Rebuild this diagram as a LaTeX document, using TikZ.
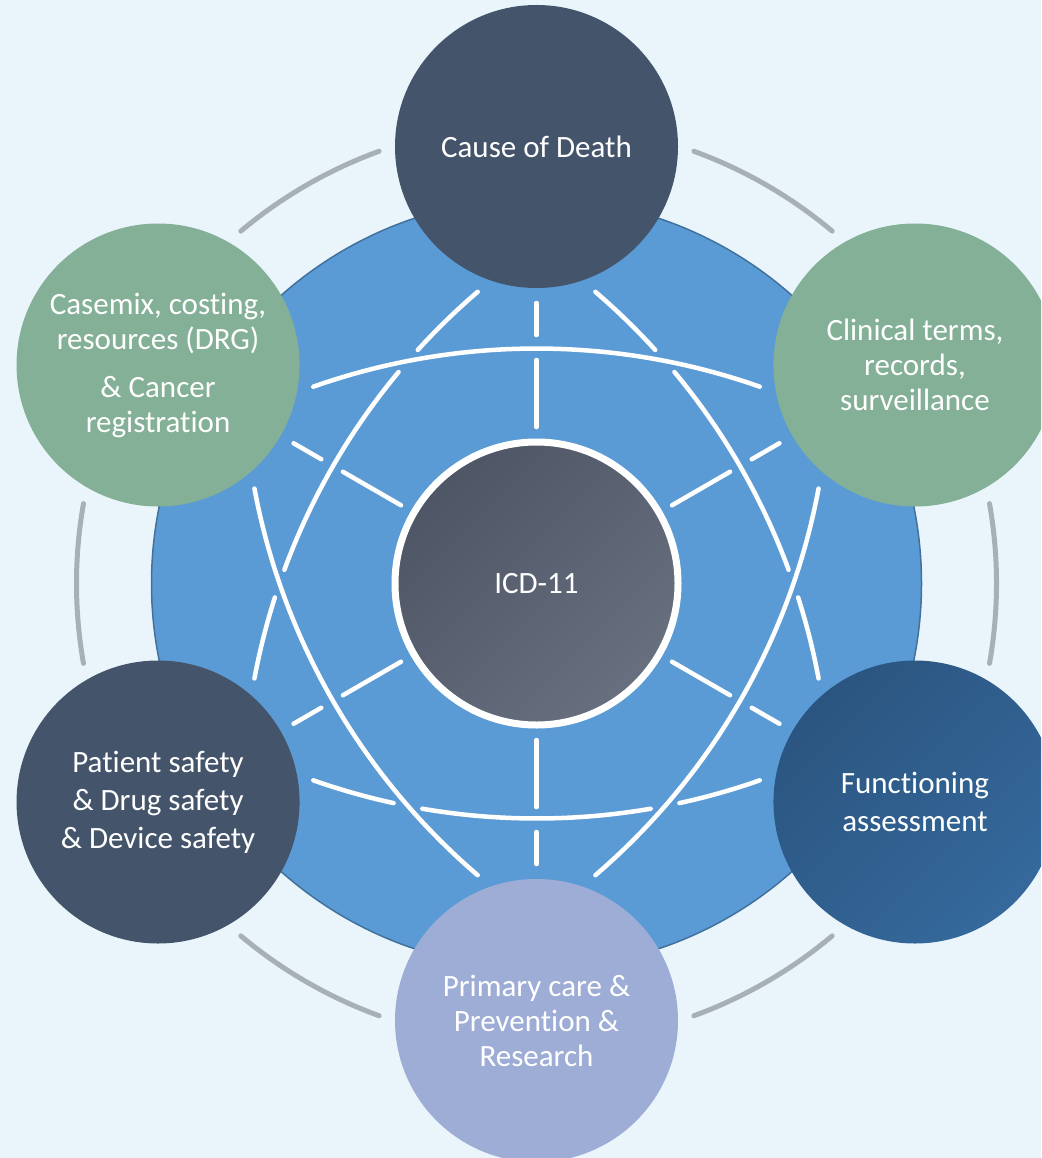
\documentclass[tikz,border=0pt]{standalone}
\usepackage{fontspec}
\setmainfont{Carlito}[Ligatures={NoCommon,NoContextual}]
\definecolor{bg}{HTML}{EAF5FB}
\definecolor{globe}{HTML}{5B9BD5}
\definecolor{globeedge}{HTML}{41719C}
\definecolor{slate}{HTML}{44546A}
\definecolor{sage}{HTML}{83B096}
\definecolor{lav}{HTML}{9EADD6}
\definecolor{funA}{HTML}{2B5580}
\definecolor{funB}{HTML}{35699C}
\definecolor{icdA}{HTML}{4E5565}
\definecolor{icdB}{HTML}{686F7E}
\definecolor{ringgray}{HTML}{A7B0B8}
\newcommand\bigarc[3]{\draw[whiteline] ([shift={(#1:437)}]C) ++(#2:672) arc[start angle=#2, end angle=#3, radius=672];}
\begin{document}
\begin{tikzpicture}[x=1pt,y=1pt,
  hub/.style={circle, inner sep=0pt, minimum size=283pt, text=white, align=center, font=\fontsize{31}{35}\selectfont},
  whiteline/.style={draw=white, line width=4.5pt, line cap=round},
  ringarc/.style={draw=ringgray, line width=5pt, line cap=round}]
\useasboundingbox (0,0) rectangle (1041,-1158);
\clip (0,0) rectangle (1041,-1158);
\fill[bg] (0,0) rectangle (1041,-1158);
\coordinate (C) at (536.5,-583.5);
% outer gray ring arcs
\foreach \a in {0,60,...,300}
  \draw[ringarc] ([shift={(\a-10:460)}]C) arc[start angle=\a-10, end angle=\a+10, radius=460];
% globe disc
\node[circle, minimum size=770pt, inner sep=0pt, fill=globe, draw=globeedge, line width=1.5pt] (globe) at (C) {};
% radial spokes
\foreach \a in {90,30,-30,-90,-150,150} {
  \draw[whiteline] ([shift={(\a:156.5)}]C) -- ([shift={(\a:223.5)}]C);
  \draw[whiteline] ([shift={(\a:248.5)}]C) -- ([shift={(\a:280.5)}]C);
}
% continuous arcs
\bigarc{-90}{70.6}{109.4}
\bigarc{30}{190.6}{229.4}
\bigarc{150}{310.6}{349.4}
% broken arcs
\bigarc{90}{250.6}{257.72}
\bigarc{90}{260.22}{279.78}
\bigarc{90}{282.28}{289.4}
\bigarc{-30}{130.6}{137.72}
\bigarc{-30}{140.22}{159.78}
\bigarc{-30}{162.28}{169.4}
\bigarc{-150}{10.6}{17.72}
\bigarc{-150}{20.22}{39.78}
\bigarc{-150}{42.28}{49.4}
% centre
\node[hub, draw=white, line width=7pt, top color=icdA, bottom color=icdB, shading angle=45] (icd) at (C) {ICD-11};
% outer circles
\node[hub, fill=slate] (cod) at ([shift={(90:437)}]C) {Cause of Death};
\node[hub, fill=sage] (clin) at ([shift={(30:437)}]C) {Clinical terms,\\records,\\surveillance};
\node[hub, top color=funA, bottom color=funB, shading angle=45] (func) at ([shift={(-30:437)}]C) {Functioning\\[3pt]assessment};
\node[hub, fill=lav] (prim) at ([shift={(-90:437)}]C) {Primary care \&\\Prevention \&\\Research};
\node[hub, fill=slate] (pat) at ([shift={(-150:437)}]C) {Patient safety\\[3pt]\& Drug safety\\[3pt]\& Device safety};
\node[hub, fill=sage] (case) at ([shift={(150:437)}]C) {Casemix, costing,\\resources (DRG)\\[13pt]\& Cancer\\registration};
\end{tikzpicture}
\end{document}
